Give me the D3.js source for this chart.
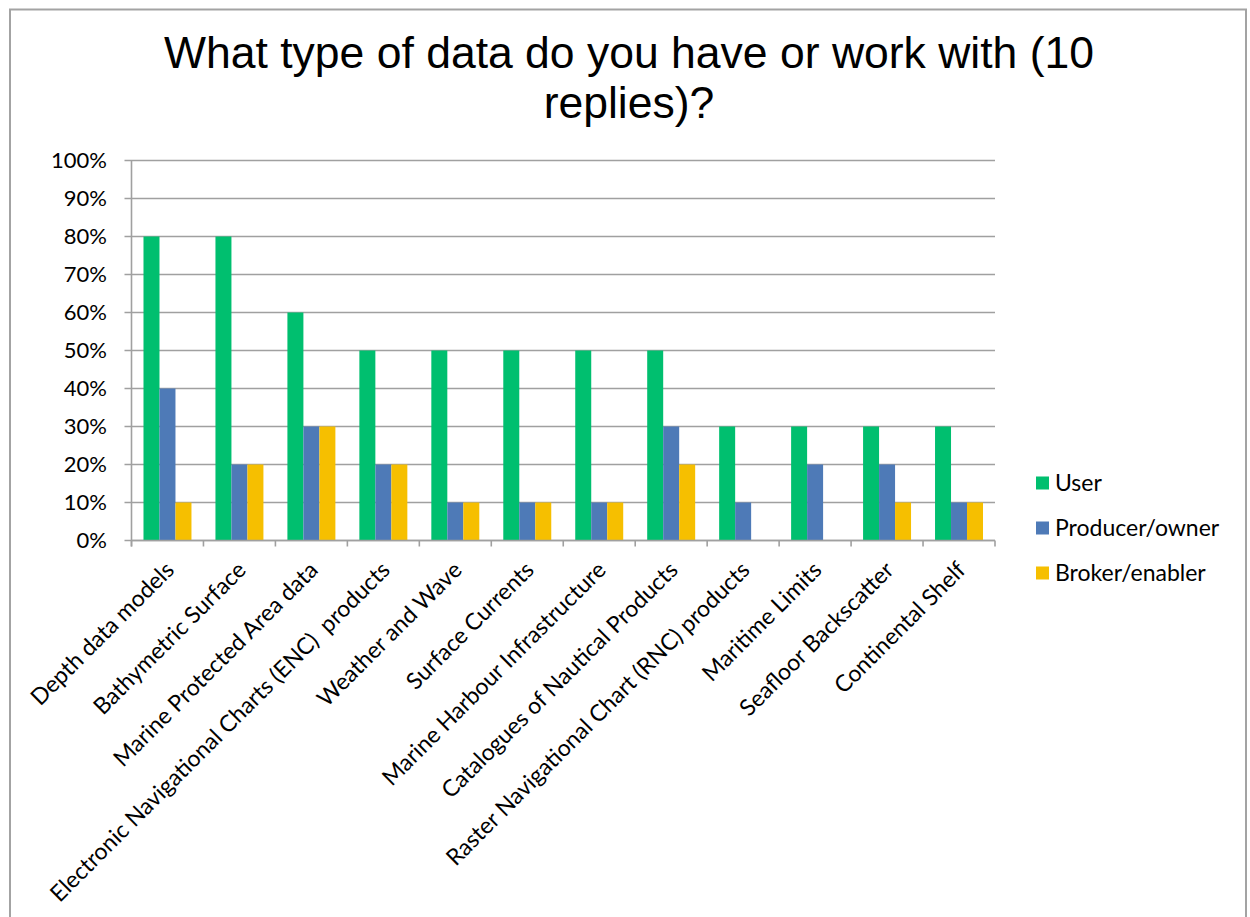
<!DOCTYPE html>
<html>
<head>
<meta charset="utf-8">
<script src="https://cdn.jsdelivr.net/npm/d3@7"></script>
<style>
  html, body { margin: 0; padding: 0; background: #fff; }
  svg { display: block; }
  .xl { white-space: pre; }
</style>
</head>
<body>
<svg id="chart" width="1250" height="917"></svg>
<script>
const titleLines = ["What type of data do you have or work with (10", "replies)?"];
const categories = [
  "Depth data models",
  "Bathymetric Surface",
  "Marine Protected Area data",
  "Electronic Navigational Charts (ENC)  products",
  "Weather and Wave",
  "Surface Currents",
  "Marine Harbour Infrastructure",
  "Catalogues of Nautical Products",
  "Raster Navigational Chart (RNC) products",
  "Maritime Limits",
  "Seafloor Backscatter",
  "Continental Shelf"
];
const seriesNames = ["User", "Producer/owner", "Broker/enabler"];
const userValues     = [80, 80, 60, 50, 50, 50, 50, 50, 30, 30, 30, 30];
const producerValues = [40, 20, 30, 20, 10, 10, 10, 30, 10, 20, 20, 10];
const brokerValues   = [10, 20, 30, 20, 10, 10, 10, 20, 0, 0, 10, 10];
const yTicks = [0, 10, 20, 30, 40, 50, 60, 70, 80, 90, 100];
const colors = ["#00bf6f", "#4e7ab7", "#f6bf00"];

const series = [userValues, producerValues, brokerValues];
const svg = d3.select("#chart");

// outer border
svg.append("rect")
  .attr("x", 10).attr("y", 9.5)
  .attr("width", 1236).attr("height", 930)
  .attr("fill", "none").attr("stroke", "#a3a3a3").attr("stroke-width", 2);

// title
const title = svg.append("text")
  .attr("text-anchor", "middle")
  .attr("font-family", "'Liberation Sans', Arial, sans-serif")
  .attr("font-size", 44.5)
  .attr("fill", "#000");
titleLines.forEach((t, i) => {
  title.append("tspan").attr("x", 629).attr("y", 68 + i * 50).text(t);
});

const plot = { left: 131.5, right: 995, top: 160.5, bottom: 540.5 };

const x = d3.scaleBand().domain(categories).range([plot.left, plot.right]).paddingInner(0).paddingOuter(0);
const inner = d3.scaleBand().domain(d3.range(3)).range([0, x.bandwidth()]).paddingInner(0).paddingOuter(0.75);
const y = d3.scaleLinear().domain([0, 100]).range([plot.bottom, plot.top]);

const font = "Lato, 'Open Sans', sans-serif";

// gridlines
svg.append("g")
  .selectAll("line")
  .data(yTicks)
  .join("line")
  .attr("x1", plot.left - 7).attr("x2", plot.right)
  .attr("y1", d => y(d)).attr("y2", d => y(d))
  .attr("stroke", "#a0a0a0").attr("stroke-width", 1.6);

// y labels
svg.append("g")
  .selectAll("text")
  .data(yTicks)
  .join("text")
  .attr("x", 107).attr("y", d => y(d))
  .attr("dy", "0.36em")
  .attr("text-anchor", "end")
  .attr("font-family", font).attr("font-size", 22)
  .attr("fill", "#000")
  .text(d => d + "%");

// bars
const groups = svg.append("g")
  .selectAll("g")
  .data(categories)
  .join("g")
  .attr("transform", d => `translate(${x(d)},0)`);

groups.selectAll("rect")
  .data((d, i) => series.map((s, k) => ({ k, v: s[i] })))
  .join("rect")
  .attr("x", d => inner(d.k))
  .attr("width", inner.bandwidth())
  .attr("y", d => y(d.v))
  .attr("height", d => y(0) - y(d.v))
  .attr("fill", d => colors[d.k]);

// y axis line
svg.append("line")
  .attr("x1", plot.left).attr("x2", plot.left)
  .attr("y1", plot.top).attr("y2", plot.bottom + 6)
  .attr("stroke", "#a0a0a0").attr("stroke-width", 1.6);

// x axis line + ticks at category boundaries
svg.append("line")
  .attr("x1", plot.left).attr("x2", plot.right)
  .attr("y1", plot.bottom).attr("y2", plot.bottom)
  .attr("stroke", "#a0a0a0").attr("stroke-width", 1.6);
const boundaries = categories.map(c => x(c)).concat([plot.right]);
svg.append("g")
  .selectAll("line")
  .data(boundaries)
  .join("line")
  .attr("x1", d => d).attr("x2", d => d)
  .attr("y1", plot.bottom).attr("y2", plot.bottom + 6)
  .attr("stroke", "#a0a0a0").attr("stroke-width", 1.6);

// x labels
svg.append("g")
  .selectAll("text")
  .data(categories)
  .join("text")
  .attr("class", "xl")
  .attr("text-anchor", "end")
  .attr("font-family", font).attr("font-size", 23)
  .attr("fill", "#000")
  .attr("transform", d => `translate(${x(d) + x.bandwidth() / 2 + 8},${plot.bottom + 31}) rotate(-45)`)
  .text(d => d);

// legend
const legend = svg.append("g")
  .selectAll("g")
  .data(seriesNames)
  .join("g")
  .attr("transform", (d, i) => `translate(1036,${483 + i * 45})`);
legend.append("rect")
  .attr("x", 0).attr("y", -6.5).attr("width", 13).attr("height", 13)
  .attr("fill", (d, i) => colors[i]);
legend.append("text")
  .attr("x", 19).attr("y", 0).attr("dy", "0.36em")
  .attr("font-family", font).attr("font-size", 23)
  .attr("fill", "#000")
  .text(d => d);
</script>
</body>
</html>
